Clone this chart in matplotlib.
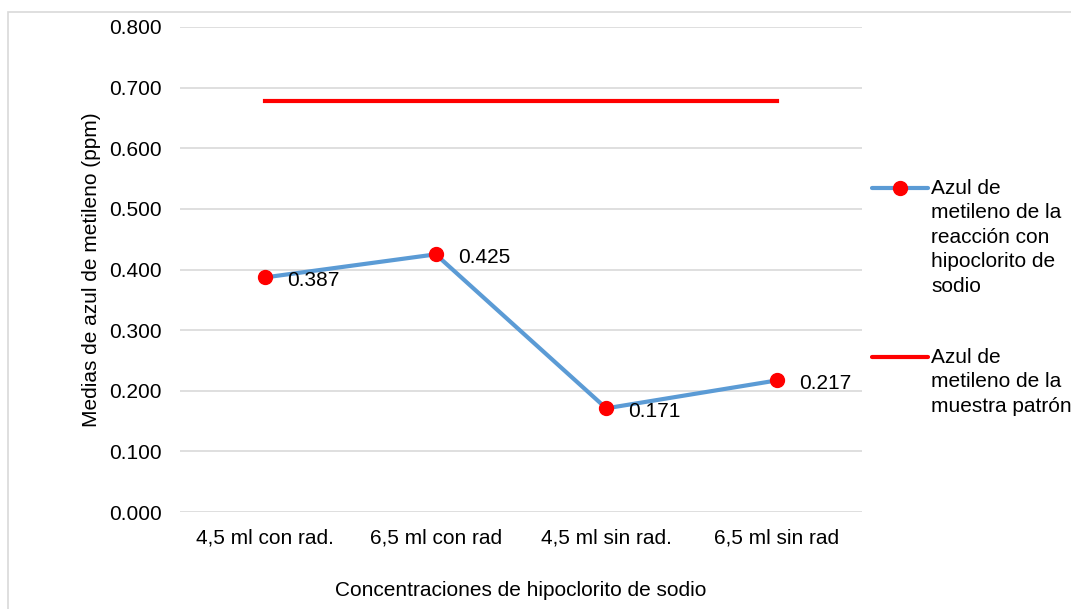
import matplotlib.pyplot as plt
from matplotlib.patches import Rectangle
from matplotlib.lines import Line2D

plt.rcParams['font.family'] = ['Liberation Sans', 'DejaVu Sans']

# Datos
categorias = ['4,5 ml con rad.', '6,5 ml con rad', '4,5 ml sin rad.', '6,5 ml sin rad']
reaccion = [0.387, 0.425, 0.171, 0.217]
patron = [0.678, 0.678, 0.678, 0.678]
leyenda = ['Azul de\nmetileno de la\nreacción con\nhipoclorito de\nsodio',
           'Azul de\nmetileno de la\nmuestra patrón']

FS = 15
W, H = 1071, 609

fig = plt.figure(figsize=(10.71, 6.09), dpi=100)
ax = fig.add_axes([180 / W, 1 - 512 / H, 682 / W, 485 / H])

# Marco del gráfico
fig.patches.append(Rectangle((8 / W, -0.1), 1.2, 1.1 - 12 / H, transform=fig.transFigure,
                             fill=False, edgecolor='#d9d9d9', linewidth=1.2))

x = range(len(categorias))
ax.plot(x, reaccion, color='#5b9bd5', linewidth=3, marker='o', markersize=10,
        markerfacecolor='#ff0000', markeredgecolor='#ff0000', zorder=3)
ax.plot(x, patron, color='#ff0000', linewidth=3, zorder=3)

# Etiquetas de valores
for xi, v in zip(x, reaccion):
    ax.annotate(f'{v:.3f}', (xi, v), xytext=(16, -2), textcoords='offset points',
                ha='left', va='center', fontsize=FS)

ax.set_xlim(-0.5, 3.5)
ax.set_ylim(0, 0.8)
ax.set_yticks([i / 10 for i in range(9)])
ax.set_yticklabels([f'{i / 10:.3f}' for i in range(9)])
ax.set_xticks(list(x))
ax.set_xticklabels(categorias)
ax.tick_params(axis='x', length=0, labelsize=FS, pad=12)
ax.tick_params(axis='y', length=0, labelsize=FS, pad=13)

ax.grid(axis='y', color='#d9d9d9', linewidth=1.2)
ax.set_axisbelow(True)
for s in ax.spines.values():
    s.set_visible(False)

ax.set_xlabel('Concentraciones de hipoclorito de sodio', fontsize=FS, labelpad=24)
ax.set_ylabel('Medias de azul de metileno (ppm)', fontsize=FS, labelpad=6)

# Leyenda a la derecha, con el símbolo alineado a la primera línea del texto
entradas = [
    dict(color='#5b9bd5', marker='o', y=188),
    dict(color='#ff0000', marker=None, y=357),
]
for ent, texto in zip(entradas, leyenda):
    yf = 1 - ent['y'] / H
    fig.add_artist(Line2D([872 / W, 928 / W], [yf, yf], transform=fig.transFigure,
                          color=ent['color'], linewidth=3, solid_capstyle='round'))
    if ent['marker']:
        fig.add_artist(Line2D([900 / W], [yf], transform=fig.transFigure, marker='o',
                              markersize=10, color='#ff0000', linestyle='none'))
    fig.text(931 / W, yf + 9 / H, texto, fontsize=FS, ha='left', va='top',
             linespacing=1.36)

fig.savefig('out.png', dpi=100)
